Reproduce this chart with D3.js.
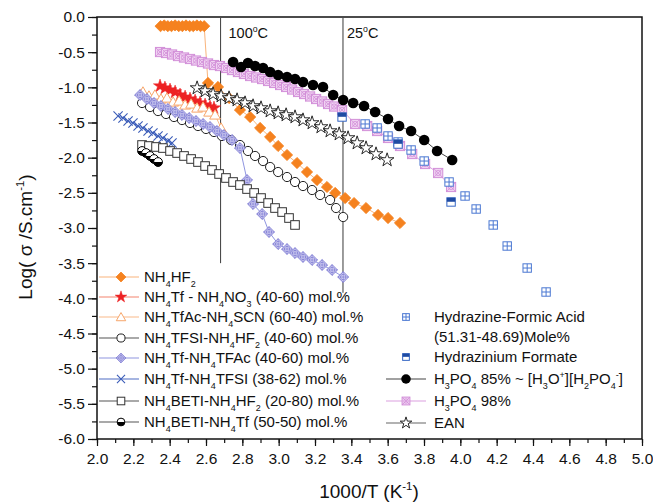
<!DOCTYPE html>
<html>
<head>
<meta charset="utf-8">
<script src="https://cdn.jsdelivr.net/npm/d3@7"></script>
<style>
  html, body { margin: 0; padding: 0; background: #fff; }
  svg { display: block; }
  text { font-family: "Liberation Sans", Arial, sans-serif; fill: #111; }
</style>
</head>
<body>
<svg id="chart" width="653" height="502"></svg>
<script>
// ---------------- DATA ----------------
const xTickValues = [2.0,2.2,2.4,2.6,2.8,3.0,3.2,3.4,3.6,3.8,4.0,4.2,4.4,4.6,4.8,5.0];
const yTickValues = [0.0,-0.5,-1.0,-1.5,-2.0,-2.5,-3.0,-3.5,-4.0,-4.5,-5.0,-5.5,-6.0];
const refLineX = [2.68, 3.354];
const refLineBottom = [-3.5, -3.92];
const refLineLabels = ["100^{o}C", "25^{o}C"];

// NH4HF2
const hf2X = [2.35,2.37,2.39,2.41,2.43,2.45,2.47,2.49,2.51,2.53,2.55,2.57,2.59,
  2.611,2.666,2.727,2.787,2.843,2.898,2.953,2.997,3.046,3.101,3.156,3.211,3.266,3.311,3.366,3.415,3.481,3.547,3.602,3.668];
const hf2Y = [-0.13,-0.12,-0.13,-0.13,-0.12,-0.13,-0.13,-0.12,-0.13,-0.13,-0.12,-0.13,-0.13,
  -0.938,-0.995,-1.152,-1.322,-1.422,-1.578,-1.706,-1.834,-1.962,-2.076,-2.204,-2.318,-2.417,-2.502,-2.574,-2.645,-2.716,-2.815,-2.858,-2.929];

// NH4Tf - NH4NO3
const tfNo3X = [2.347,2.374,2.402,2.430,2.457,2.485,2.512,2.540,2.567,2.595,2.622,2.644];
const tfNo3Y = [-0.981,-1.010,-1.038,-1.066,-1.109,-1.138,-1.166,-1.194,-1.223,-1.251,-1.280,-1.294];

// NH4TfAc-NH4SCN
const tfacScnX = [2.253,2.286,2.319,2.352,2.385,2.419,2.452,2.485,2.518,2.551,2.584,2.617,2.650,2.683];
const tfacScnY = [-1.066,-1.123,-1.109,-1.166,-1.152,-1.209,-1.194,-1.251,-1.237,-1.294,-1.280,-1.351,-1.393,-1.578];

// NH4TFSI-NH4HF2
const tfsiHf2X = [2.248,2.292,2.336,2.380,2.424,2.468,2.512,2.556,2.600,2.644,2.688,2.738,2.787,2.831,2.870,2.914,2.953,2.997,3.046,3.090,3.134,3.184,3.228,3.283,3.316,3.355];
const tfsiHf2Y = [-1.223,-1.280,-1.337,-1.379,-1.422,-1.465,-1.507,-1.550,-1.592,-1.635,-1.692,-1.749,-1.820,-1.905,-1.976,-2.048,-2.133,-2.204,-2.275,-2.346,-2.403,-2.460,-2.531,-2.602,-2.716,-2.844];

// NH4Tf-NH4TFAc
const tfTfacX = [2.237,2.275,2.314,2.352,2.391,2.430,2.468,2.507,2.545,2.584,2.622,2.661,2.699,2.743,2.787,2.826,2.859,2.909,2.947,2.997,3.046,3.090,3.134,3.184,3.239,3.294,3.355];
const tfTfacY = [-1.109,-1.166,-1.223,-1.265,-1.308,-1.351,-1.393,-1.436,-1.479,-1.521,-1.564,-1.621,-1.678,-1.749,-1.863,-2.318,-2.659,-2.801,-3.057,-3.228,-3.299,-3.356,-3.412,-3.455,-3.526,-3.597,-3.697];

// NH4Tf-NH4TFSI
const tfTfsiX = [2.116,2.143,2.171,2.198,2.226,2.253,2.281,2.308,2.336,2.363,2.391,2.413];
const tfTfsiY = [-1.408,-1.436,-1.479,-1.507,-1.550,-1.578,-1.621,-1.650,-1.692,-1.720,-1.763,-1.792];

// NH4BETI-NH4HF2
const betiHf2X = [2.248,2.286,2.325,2.363,2.402,2.441,2.479,2.518,2.556,2.595,2.633,2.672,2.710,2.749,2.787,2.826,2.865,2.903,2.942,2.980,3.019,3.057,3.090];
const betiHf2Y = [-1.820,-1.834,-1.848,-1.863,-1.905,-1.934,-1.976,-2.019,-2.062,-2.119,-2.175,-2.232,-2.289,-2.346,-2.389,-2.446,-2.502,-2.574,-2.645,-2.716,-2.773,-2.858,-2.957];

// NH4BETI-NH4Tf
const betiTfX = [2.248,2.270,2.292,2.314,2.336];
const betiTfY = [-1.905,-1.934,-1.976,-2.019,-2.062];

// Hydrazine-Formic Acid
const hydFaX = [3.476,3.542,3.602,3.657,3.729,3.801,3.938,4.026,4.087,4.181,4.258,4.368,4.472];
const hydFaY = [-1.521,-1.578,-1.692,-1.777,-1.891,-2.048,-2.346,-2.545,-2.730,-2.957,-3.256,-3.569,-3.910];

// Hydrazinium Formate
const hydFormX = [3.349,3.657,3.949];
const hydFormY = [-1.422,-1.806,-2.630];

// H3PO4 85%
const p85X = [2.749,2.793,2.831,2.870,2.914,2.953,2.997,3.046,3.090,3.134,3.189,3.244,3.300,3.355,3.410,3.470,3.531,3.602,3.663,3.729,3.801,3.872,3.955];
const p85Y = [-0.640,-0.711,-0.654,-0.697,-0.725,-0.782,-0.825,-0.853,-0.882,-0.924,-0.967,-0.995,-1.109,-1.180,-1.223,-1.265,-1.351,-1.450,-1.550,-1.621,-1.749,-1.905,-2.033];

// H3PO4 98%
const p98X = [2.347,2.380,2.413,2.446,2.479,2.512,2.545,2.578,2.611,2.644,2.677,2.710,2.743,2.776,2.809,2.843,2.876,2.909,2.942,2.975,3.008,3.041,3.074,3.107,3.140,3.173,3.206,3.239,3.272,3.305,3.349,
  3.421,3.487,3.542,3.602,3.668,3.735,3.806,3.878,3.949];
const p98Y = [-0.498,-0.512,-0.533,-0.555,-0.576,-0.597,-0.619,-0.640,-0.661,-0.683,-0.697,-0.725,-0.754,-0.782,-0.810,-0.839,-0.860,-0.882,-0.910,-0.938,-0.967,-0.995,-1.031,-1.066,-1.095,-1.130,-1.166,-1.201,-1.237,-1.273,-1.322,
  -1.521,-1.550,-1.621,-1.720,-1.834,-1.948,-2.090,-2.218,-2.417];

// EAN
const eanX = [2.551,2.595,2.639,2.683,2.727,2.771,2.815,2.859,2.903,2.953,2.997,3.041,3.090,3.134,3.184,3.233,3.283,3.333,3.382,3.432,3.481,3.536,3.597];
const eanY = [-1.010,-1.052,-1.095,-1.123,-1.152,-1.180,-1.223,-1.265,-1.294,-1.337,-1.365,-1.393,-1.422,-1.465,-1.507,-1.564,-1.621,-1.664,-1.720,-1.792,-1.863,-1.948,-2.033];

const leftLegendLabels = [
  "NH_{4}HF_{2}",
  "NH_{4}Tf - NH_{4}NO_{3} (40-60) mol.%",
  "NH_{4}TfAc-NH_{4}SCN (60-40) mol.%",
  "NH_{4}TFSI-NH_{4}HF_{2} (40-60) mol.%",
  "NH_{4}Tf-NH_{4}TFAc (40-60) mol.%",
  "NH_{4}Tf-NH_{4}TFSI (38-62) mol.%",
  "NH_{4}BETI-NH_{4}HF_{2} (20-80) mol.%",
  "NH_{4}BETI-NH_{4}Tf (50-50) mol.%"
];
const rightLegendLabels = [
  ["Hydrazine-Formic Acid", "(51.31-48.69)Mole%"],
  ["Hydrazinium Formate"],
  ["H_{3}PO_{4} 85% ~ [H_{3}O^{+}][H_{2}PO_{4}^{-}]"],
  ["H_{3}PO_{4} 98%"],
  ["EAN"]
];

// ---------------- LAYOUT ----------------
const svg = d3.select("#chart");
const M = {left: 97, right: 642, top: 17, bottom: 439};
const x = d3.scaleLinear().domain([2, 5]).range([M.left, M.right]);
const y = d3.scaleLinear().domain([-6, 0]).range([M.bottom, M.top]);
const LEG_FS = 15;

// series styles
const series = [
  {X: hf2X, Y: hf2Y, marker: "diamond", line: "#f9b47c"},
  {X: tfNo3X, Y: tfNo3Y, marker: "star", line: "#f4836f"},
  {X: tfacScnX, Y: tfacScnY, marker: "triangle", line: "#f9b98a"},
  {X: tfsiHf2X, Y: tfsiHf2Y, marker: "ocircle", line: "#555"},
  {X: tfTfacX, Y: tfTfacY, marker: "xdiamond", line: "#8f95e0"},
  {X: tfTfsiX, Y: tfTfsiY, marker: "xmark", line: "#4f6cc4"},
  {X: betiHf2X, Y: betiHf2Y, marker: "osquare", line: "#555"},
  {X: betiTfX, Y: betiTfY, marker: "halfcircle", line: "#555"},
  {X: p98X, Y: p98Y, marker: "pinksquare", line: "#dba0df"},
  {X: hydFaX, Y: hydFaY, marker: "gridsquare", line: null},
  {X: hydFormX, Y: hydFormY, marker: "halfsquare", line: null},
  {X: p85X, Y: p85Y, marker: "bcircle", line: "#444"},
  {X: eanX, Y: eanY, marker: "ostar", line: "#666"}
];

function drawMarker(g, type, s) {
  s = s || 1;
  const r = 5.2 * s;
  if (type === "diamond") {
    g.append("path").attr("d", `M0,${-r*1.08}L${r*1.08},0L0,${r*1.08}L${-r*1.08},0Z`)
      .attr("fill", "#f5821f").attr("stroke", "#f5821f").attr("stroke-width", 0.8);
  } else if (type === "star") {
    g.append("path").attr("d", d3.symbol(d3.symbolStar, 55 * s * s)())
      .attr("fill", "#ed2224").attr("stroke", "#ed2224").attr("stroke-width", 0.5);
  } else if (type === "ostar") {
    g.append("path").attr("d", d3.symbol(d3.symbolStar, 58 * s * s)())
      .attr("fill", "#fff").attr("stroke", "#111").attr("stroke-width", 0.9);
  } else if (type === "triangle") {
    g.append("path").attr("d", d3.symbol(d3.symbolTriangle, 50 * s * s)())
      .attr("transform", "translate(0,1)")
      .attr("fill", "#fff").attr("stroke", "#f7a66b").attr("stroke-width", 1);
  } else if (type === "ocircle") {
    g.append("circle").attr("r", 4.6 * s).attr("fill", "#fff").attr("stroke", "#222").attr("stroke-width", 1);
  } else if (type === "bcircle") {
    g.append("circle").attr("r", 5.3 * s).attr("fill", "#000");
  } else if (type === "xdiamond") {
    const d = 5.4 * s;
    g.append("path").attr("d", `M0,${-d}L${d},0L0,${d}L${-d},0Z`)
      .attr("fill", "#e4e2f7").attr("stroke", "#7e7bd4").attr("stroke-width", 1);
    g.append("path").attr("d", `M0,${-d}V${d}M${-d},0H${d}`).attr("stroke", "#7e7bd4").attr("stroke-width", 0.8);
    g.append("circle").attr("r", 2.7 * s).attr("fill", "none").attr("stroke", "#7e7bd4").attr("stroke-width", 0.8);
  } else if (type === "xmark") {
    const d = 4.6 * s;
    g.append("path").attr("d", `M${-d},${-d}L${d},${d}M${-d},${d}L${d},${-d}`)
      .attr("stroke", "#3a5cb8").attr("stroke-width", 1.1).attr("fill", "none");
  } else if (type === "osquare") {
    const d = 4.3 * s;
    g.append("rect").attr("x", -d).attr("y", -d).attr("width", 2*d).attr("height", 2*d)
      .attr("fill", "#fff").attr("stroke", "#333").attr("stroke-width", 1);
  } else if (type === "halfcircle") {
    const rr = 4.4 * s;
    g.append("circle").attr("r", rr).attr("fill", "#fff").attr("stroke", "#000").attr("stroke-width", 1);
    g.append("path").attr("d", `M${-rr},0A${rr},${rr} 0 0 0 ${rr},0Z`).attr("fill", "#000");
  } else if (type === "pinksquare") {
    const d = 4.6 * s;
    g.append("rect").attr("x", -d).attr("y", -d).attr("width", 2*d).attr("height", 2*d)
      .attr("fill", "#f0d2f2").attr("stroke", "#d28fd8").attr("stroke-width", 1);
    g.append("path").attr("d", `M${-d},${-d}L${d},${d}M${-d},${d}L${d},${-d}`).attr("stroke", "#d28fd8").attr("stroke-width", 0.8);
    g.append("circle").attr("r", 2.6 * s).attr("fill", "none").attr("stroke", "#d28fd8").attr("stroke-width", 0.8);
  } else if (type === "gridsquare") {
    const d = 4.2 * s;
    g.append("rect").attr("x", -d).attr("y", -d).attr("width", 2*d).attr("height", 2*d)
      .attr("fill", "#fff").attr("stroke", "#4b78d2").attr("stroke-width", 1);
    g.append("path").attr("d", `M0,${-d}V${d}M${-d},0H${d}`).attr("stroke", "#4b78d2").attr("stroke-width", 1);
  } else if (type === "halfsquare") {
    const d = 4.2 * s;
    g.append("rect").attr("x", -d).attr("y", -d).attr("width", 2*d).attr("height", 2*d)
      .attr("fill", "#fff").attr("stroke", "#3566c4").attr("stroke-width", 1);
    g.append("rect").attr("x", -d).attr("y", -d).attr("width", 2*d).attr("height", d*0.95)
      .attr("fill", "#1f4ba3");
  }
}

// rich text with _{sub} and ^{sup}
function richText(t, str, fs) {
  const parts = str.split(/(_\{[^}]*\}|\^\{[^}]*\})/).filter(p => p.length);
  let off = 0;
  parts.forEach(p => {
    if (p.startsWith("_{")) {
      const target = 0.3 * fs;
      t.append("tspan").attr("dy", target - off).attr("font-size", fs * 0.6).text(p.slice(2, -1));
      off = target;
    } else if (p.startsWith("^{")) {
      const target = -0.42 * fs;
      t.append("tspan").attr("dy", target - off).attr("font-size", fs * 0.6).text(p.slice(2, -1));
      off = target;
    } else {
      t.append("tspan").attr("dy", -off).text(p);
      off = 0;
    }
  });
}

// ---------------- AXES ----------------
const fmt = d => d.toFixed(1);
const xMinor = d3.range(2.0, 5.0001, 0.1).map(v => +v.toFixed(2));
const yMinor = d3.range(-6, 0.0001, 0.25).map(v => +v.toFixed(2));

const xMin = svg.append("g").attr("transform", `translate(0,${M.bottom})`)
  .call(d3.axisBottom(x).tickValues(xMinor).tickSize(4).tickFormat(""));
const xAx = svg.append("g").attr("transform", `translate(0,${M.bottom})`)
  .call(d3.axisBottom(x).tickValues(xTickValues).tickSize(7).tickPadding(7).tickFormat(fmt));
const yMin = svg.append("g").attr("transform", `translate(${M.left},0)`)
  .call(d3.axisLeft(y).tickValues(yMinor).tickSize(5).tickFormat(""));
const yAx = svg.append("g").attr("transform", `translate(${M.left},0)`)
  .call(d3.axisLeft(y).tickValues(yTickValues).tickSize(9).tickPadding(3).tickFormat(fmt));
[xMin, xAx, yMin, yAx].forEach(a => {
  a.select(".domain").remove();
  a.selectAll("line").attr("stroke", "#111").attr("stroke-width", 1.2);
  a.selectAll("text").attr("font-size", 15.5).attr("fill", "#111")
    .attr("font-family", '"Liberation Sans", Arial, sans-serif');
});

// frame
svg.append("rect").attr("x", M.left).attr("y", M.top)
  .attr("width", M.right - M.left).attr("height", M.bottom - M.top)
  .attr("fill", "none").attr("stroke", "#111").attr("stroke-width", 1.5);

// axis titles
const xt = svg.append("text").attr("x", 369).attr("y", 498).attr("text-anchor", "middle").attr("font-size", 19);
richText(xt, "1000/T (K^{-1})", 19);
const yt = svg.append("text").attr("transform", "translate(32,237) rotate(-90)").attr("text-anchor", "middle").attr("font-size", 19);
richText(yt, "Log( σ /S.cm^{-1})", 19);

// reference temperature lines
refLineX.forEach((v, i) => {
  svg.append("line").attr("x1", x(v)).attr("x2", x(v)).attr("y1", M.top).attr("y2", y(refLineBottom[i]))
    .attr("stroke", "#4a4a4a").attr("stroke-width", 1.1);
  const t = svg.append("text").attr("x", x(v) + (i === 0 ? 8 : 4)).attr("y", 38).attr("font-size", 14.5);
  richText(t, refLineLabels[i], 14.5);
});

// ---------------- SERIES ----------------
const lineGen = d3.line().x(d => x(d[0])).y(d => y(d[1]));
series.forEach(s => {
  const pts = s.X.map((v, i) => [v, s.Y[i]]);
  if (s.line) {
    svg.append("path").datum(pts).attr("d", lineGen)
      .attr("fill", "none").attr("stroke", s.line).attr("stroke-width", 1);
  }
  const g = svg.append("g");
  pts.forEach(p => {
    drawMarker(g.append("g").attr("transform", `translate(${x(p[0])},${y(p[1])})`), s.marker, 1);
  });
});

// ---------------- LEGENDS ----------------
const leftRowsY = [277, 297, 317, 338, 358, 379, 401, 422];
leftLegendLabels.forEach((lab, i) => {
  const s = series[i];
  const yy = leftRowsY[i];
  svg.append("line").attr("x1", 99).attr("x2", 139).attr("y1", yy).attr("y2", yy)
    .attr("stroke", s.line).attr("stroke-width", 1.2);
  drawMarker(svg.append("g").attr("transform", `translate(121,${yy})`), s.marker, 0.88);
  const t = svg.append("text").attr("x", 144).attr("y", yy + 5).attr("font-size", LEG_FS);
  richText(t, lab, LEG_FS);
});

const rightDefs = [
  {marker: "gridsquare", line: null, rows: [317, 337], scale: 0.8},
  {marker: "halfsquare", line: null, rows: [357], scale: 0.8},
  {marker: "bcircle", line: "#444", rows: [379], scale: 0.9},
  {marker: "pinksquare", line: "#dba0df", rows: [401], scale: 0.85},
  {marker: "ostar", line: "#666", rows: [423], scale: 0.85}
];
rightLegendLabels.forEach((labs, i) => {
  const d = rightDefs[i];
  const yy = d.rows[0];
  if (d.line) {
    svg.append("line").attr("x1", 386).attr("x2", 426).attr("y1", yy).attr("y2", yy)
      .attr("stroke", d.line).attr("stroke-width", 1.2);
  }
  drawMarker(svg.append("g").attr("transform", `translate(406,${yy})`), d.marker, d.scale);
  labs.forEach((lab, j) => {
    const t = svg.append("text").attr("x", 434).attr("y", d.rows[j] + 5).attr("font-size", LEG_FS);
    richText(t, lab, LEG_FS);
  });
});
</script>
</body>
</html>
